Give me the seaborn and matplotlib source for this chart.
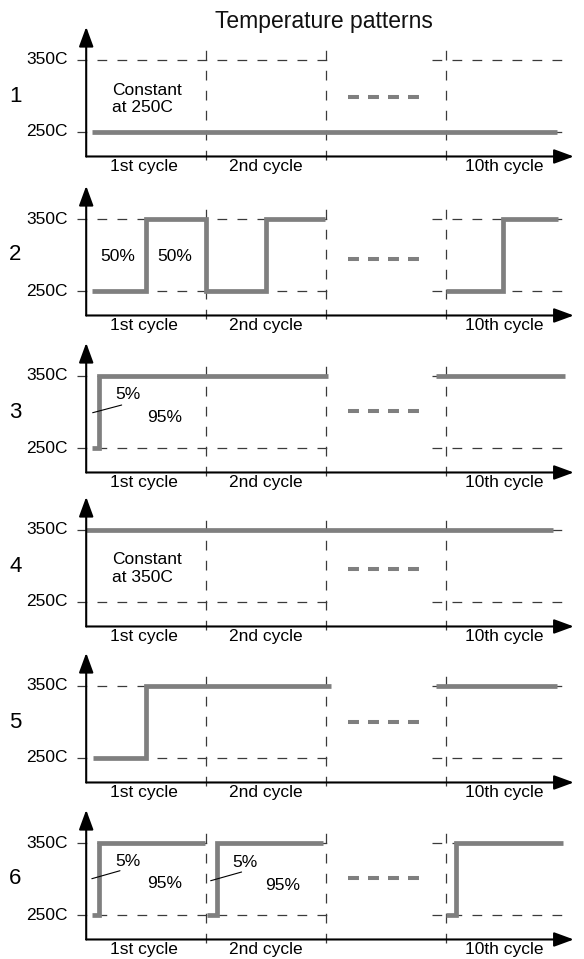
import matplotlib
matplotlib.use("Agg")
import matplotlib.pyplot as plt
import pandas as pd
import seaborn as sns

# ---------------- data ----------------
pattern_names = ["1", "2", "3", "4", "5", "6"]
temp_levels = [250, 350]
temp_labels = ["250C", "350C"]
cycle_labels = ["1st cycle", "2nd cycle", "10th cycle"]
cycle_label_pos = [0.48, 1.5, 3.49]
cycle_bounds = [1, 2, 3]

# step change points: time (in cycles) and temperature (C), drawn as steps-post
p1_a_time = [0.05, 3.93]
p1_a_temp = [250, 250]
p2_a_time = [0.05, 0.5, 1.0, 1.5, 1.99]
p2_a_temp = [250, 350, 250, 350, 350]
p2_b_time = [3.0, 3.48, 3.94]
p2_b_temp = [250, 350, 350]
p3_a_time = [0.05, 0.11, 2.02]
p3_a_temp = [250, 350, 350]
p3_b_time = [2.92, 4.0]
p3_b_temp = [350, 350]
p4_a_time = [0.0, 3.9]
p4_a_temp = [350, 350]
p5_a_time = [0.06, 0.5, 2.04]
p5_a_temp = [250, 350, 350]
p5_b_time = [2.92, 3.93]
p5_b_temp = [350, 350]
p6_a_time = [0.05, 0.11, 0.99]
p6_a_temp = [250, 350, 350]
p6_b_time = [1.01, 1.09, 1.98]
p6_b_temp = [250, 350, 350]
p6_c_time = [3.0, 3.09, 3.98]
p6_c_temp = [250, 350, 350]

# "..." marker between 2nd and 10th cycle
ellipsis_time = [2.185, 2.795]
ellipsis_temp = [298, 294, 301, 296, 300, 301]

# in-panel notes: (text, time, temp, align)
p1_notes = [("Constant", 0.215, 301.5, "left"), ("at 250C", 0.215, 278, "left")]
p2_notes = [("50%", 0.261, 292, "center"), ("50%", 0.741, 292, "center")]
p3_notes = [("5%", 0.345, 317.6, "center"), ("95%", 0.658, 286.6, "center")]
p4_notes = [("Constant", 0.215, 302.8, "left"), ("at 350C", 0.215, 278, "left")]
p5_notes = []
p6_notes = [("5%", 0.345, 317.6, "center"), ("95%", 0.656, 287.5, "center"),
            ("5%", 1.326, 316, "center"), ("95%", 1.643, 285, "center")]

# leader lines for the 5% notes: ((t0, t1), (T0, T1))
p3_leaders = [((0.054, 0.296), (299, 309.7))]
p6_leaders = [((0.047, 0.282), (300.4, 311.5)), ((1.039, 1.297), (297.6, 309.7))]

segments = {
    "1": [(p1_a_time, p1_a_temp)],
    "2": [(p2_a_time, p2_a_temp), (p2_b_time, p2_b_temp)],
    "3": [(p3_a_time, p3_a_temp), (p3_b_time, p3_b_temp)],
    "4": [(p4_a_time, p4_a_temp)],
    "5": [(p5_a_time, p5_a_temp), (p5_b_time, p5_b_temp)],
    "6": [(p6_a_time, p6_a_temp), (p6_b_time, p6_b_temp), (p6_c_time, p6_c_temp)],
}
notes = [p1_notes, p2_notes, p3_notes, p4_notes, p5_notes, p6_notes]
leaders = [[], [], p3_leaders, [], [], p6_leaders]

rows = []
for p, segs in segments.items():
    for k, (tt, TT) in enumerate(segs):
        for t, T in zip(tt, TT):
            rows.append({"pattern": p, "segment": f"{p}-{k}", "time": t, "temp": T})
df = pd.DataFrame(rows)

# ---------------- style / layout ----------------
sns.set_style("white")
plt.rcParams["font.family"] = ["Liberation Sans", "DejaVu Sans"]
plt.rcParams["text.color"] = "black"
plt.rcParams["lines.scale_dashes"] = False

W, H = 584, 959
X0 = 86.2      # px of time 0
SX = 119.8     # px per cycle
SY = 0.72      # px per degree
Y250 = [132, 291, 448, 602, 758, 915]   # px (from top) of 250C in each panel
XAXIS_T = 216
ARROW_TOP_T = 396
CYCLE_LABEL_T = 196

GRAY = "#7f7f7f"
GUIDE = "#3a3a3a"
FS = 12.5

fig = plt.figure(figsize=(W / 100, H / 100), dpi=100)
fig.text(324 / W, 1 - 28 / H, "Temperature patterns", ha="center", va="baseline",
         fontsize=16.5, color="#111111")

arrow_kw = dict(arrowstyle="-|>,head_length=0.6,head_width=0.22", lw=1.5,
                color="black", shrinkA=0, shrinkB=0, mutation_scale=20)
guide_kw = dict(color=GUIDE, lw=0.9, dashes=(7.0, 7.4), solid_capstyle="butt")

for i, p in enumerate(pattern_names):
    top_px = Y250[i] - 72 - 55
    bot_px = Y250[i] + 40
    ax = fig.add_axes([0, 1 - bot_px / H, 1, (bot_px - top_px) / H])
    ax.patch.set_visible(False)

    # dashed guides
    for lev in temp_levels:
        ax.plot([-0.08, 2.03], [lev, lev], **guide_kw)
        ax.plot([2.89, 3.98], [lev, lev], **guide_kw)
    for b in cycle_bounds:
        ax.plot([b, b], [211, 368], **guide_kw)

    # temperature profile
    sub = df[df["pattern"] == p]
    sns.lineplot(data=sub, x="time", y="temp", units="segment", estimator=None,
                 sort=False, drawstyle="steps-post", color=GRAY, linewidth=3.4,
                 solid_joinstyle="miter", solid_capstyle="butt", legend=False, ax=ax)

    # ellipsis marker
    ax.plot(ellipsis_time, [ellipsis_temp[i]] * 2, color=GRAY, lw=2.9,
            dashes=(7.9, 6.5), solid_capstyle="butt", dash_capstyle="butt")

    # axes with arrows
    ax.annotate("", xy=(4.07, XAXIS_T), xytext=(0, XAXIS_T), arrowprops=arrow_kw)
    ax.annotate("", xy=(0, ARROW_TOP_T), xytext=(0, XAXIS_T), arrowprops=arrow_kw)

    # labels
    for lev, lab in zip(temp_levels, temp_labels):
        ax.text(-0.152, lev, lab, ha="right", va="center", fontsize=FS)
    for pos, lab in zip(cycle_label_pos, cycle_labels):
        ax.text(pos, CYCLE_LABEL_T, lab, ha="center", va="baseline", fontsize=FS)
    ax.text(-0.59, 300, p, ha="center", va="center", fontsize=16)

    for txt, t, T, al in notes[i]:
        ax.text(t, T, txt, ha=al, va="baseline", fontsize=FS)
    for (tt, TT) in leaders[i]:
        ax.plot(tt, TT, color="black", lw=0.8)

    ax.set_xlim(-X0 / SX, (W - X0) / SX)
    ax.set_ylim(250 - 40 / SY, 350 + 55 / SY)
    ax.axis("off")

fig.savefig("out.png", dpi=100)
